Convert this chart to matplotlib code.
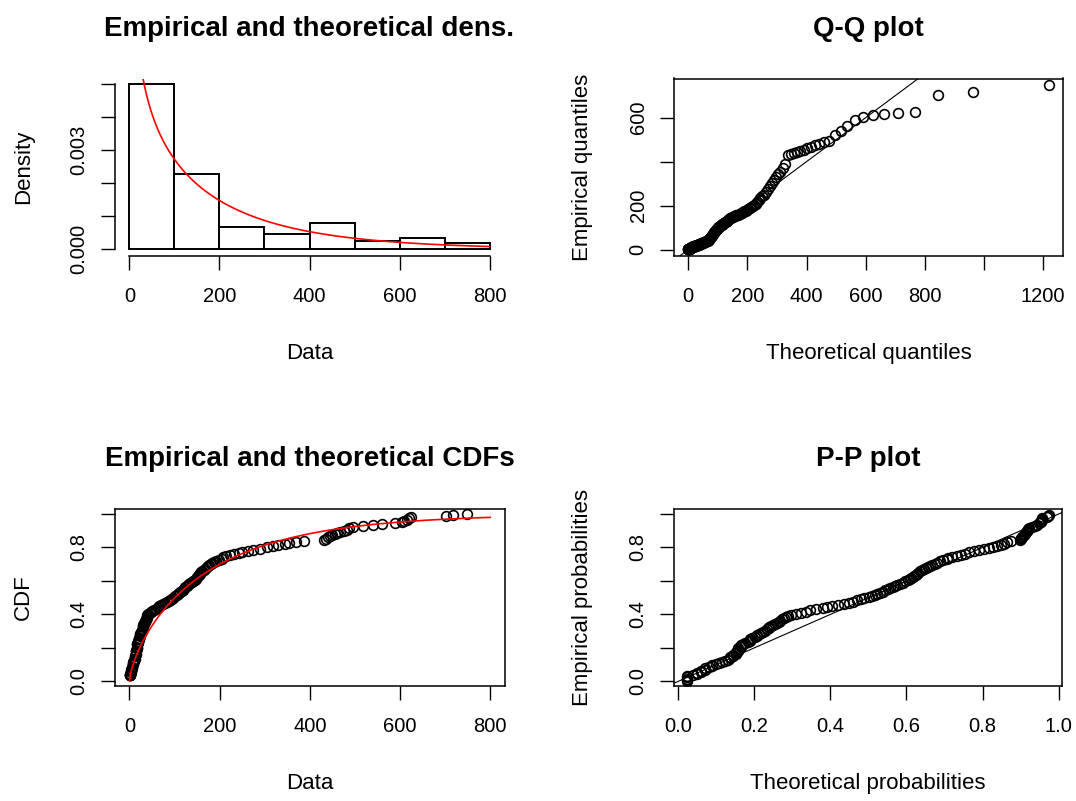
import math
import numpy as np
import matplotlib
matplotlib.use("Agg")
import matplotlib.pyplot as plt

plt.rcParams["font.family"] = ["Liberation Sans", "DejaVu Sans"]

data = [1, 1, 1, 1, 1, 2,
        3, 3, 4, 4, 5, 5, 6, 7, 7, 8, 9, 10, 11,
        12, 13, 13, 14, 14, 15, 15,
        15, 16, 16, 16, 17, 17, 17, 18, 19,
        20, 21, 21, 22, 23, 24, 24, 25, 26,
        27, 28, 29, 30, 30, 31, 32, 33, 34, 35, 36, 37,
        38, 39, 40, 42,
        45, 48, 51, 54, 58,
        63, 66, 70, 74, 79,
        83, 87, 90, 94, 97,
        102, 105, 108, 110, 113, 116, 118, 121, 124, 127, 130,
        132, 135, 139, 142, 145, 148,
        150, 152, 154, 156, 157, 159, 162, 165, 168, 171,
        174, 177, 180, 184, 188, 193, 198,
        205, 208, 215, 224, 233, 242, 250, 262, 275, 289,
        305, 318, 330, 345, 355, 370, 388,
        432, 437, 440, 444, 450, 455, 461, 468, 475, 482, 488, 495,
        519, 541, 560, 589,
        605, 610, 616, 619, 624,
        703, 718, 748]

# fitted gamma distribution (shape, rate)
shape = 0.70
rate = 0.00403

hist_breaks = [0, 100, 200, 300, 400, 500, 600, 700, 800]
dens_yticks = [0.000, 0.001, 0.002, 0.003, 0.004, 0.005]
dens_ylabels = ["0.000", "", "", "0.003", "", ""]
data_ticks = [0, 200, 400, 600, 800]
qq_xticks = [0, 200, 400, 600, 800, 1000, 1200]
qq_xlabels = ["0", "200", "400", "600", "800", "", "1200"]
qq_yticks = [0, 200, 400, 600]
qq_ylabels = ["0", "200", "", "600"]
prob_ticks = [0.0, 0.2, 0.4, 0.6, 0.8, 1.0]
prob_labels_y = ["0.0", "", "0.4", "", "0.8", ""]
prob_labels_x = ["0.0", "0.2", "0.4", "0.6", "0.8", "1.0"]


def gamma_pdf(x):
    x = np.asarray(x, float)
    return np.exp((shape - 1) * np.log(x) - rate * x + shape * np.log(rate) - math.lgamma(shape))


def gamma_cdf(x):
    u = np.asarray(x, float) * rate
    term = np.ones_like(u) / shape
    total = term.copy()
    for k in range(1, 300):
        term = term * u / (shape + k)
        total = total + term
    with np.errstate(divide="ignore"):
        out = np.exp(shape * np.log(u) - u - math.lgamma(shape)) * total
    return np.where(u > 0, out, 0.0)


def gamma_quantile(p):
    p = np.asarray(p, float)
    lo = np.zeros_like(p)
    hi = np.full_like(p, 10000.0)
    for _ in range(80):
        mid = (lo + hi) / 2
        below = gamma_cdf(mid) < p
        lo = np.where(below, mid, lo)
        hi = np.where(below, hi, mid)
    return (lo + hi) / 2


x = np.sort(np.array(data, float))
n = len(x)
pp = (np.arange(1, n + 1) - 0.5) / n
ecdf = np.searchsorted(x, x, side="right") / n

TICK_FS = 14.5
LAB_FS = 16
TITLE_FS = 20
W, H = 1076, 801

fig = plt.figure(figsize=(W / 100, H / 100), dpi=100)


def make_axes(left, top, right, bottom):
    return fig.add_axes([left / W, 1 - bottom / H, (right - left) / W, (bottom - top) / H])


def style(ax, title, xlabel, ylabel, box=True):
    ax.tick_params(direction="out", length=10, width=1, labelsize=TICK_FS)
    ax.tick_params(axis="x", pad=12)
    ax.tick_params(axis="y", pad=9)
    for lab in ax.get_yticklabels():
        lab.set_rotation(90)
        lab.set_va("center")
    ax.set_xlabel(xlabel, fontsize=LAB_FS)
    ax.set_ylabel(ylabel, fontsize=LAB_FS)
    ax.xaxis.label.set_va("center")
    ax.yaxis.label.set_va("center")
    ax.xaxis.set_label_coords(0.5, -0.55)
    ax.yaxis.set_label_coords(-0.236, 0.5)
    ax.text(0.5, 1.28, title, transform=ax.transAxes, ha="center", va="center",
            fontsize=TITLE_FS, fontweight="bold")
    for s in ax.spines.values():
        s.set_linewidth(1.1)
    if not box:
        ax.spines["top"].set_visible(False)
        ax.spines["right"].set_visible(False)


pts = dict(linestyle="none", marker="o", markersize=7.0, markerfacecolor="none",
           markeredgecolor="black", markeredgewidth=1.2)

# density
ax1 = make_axes(115, 78.5, 504, 256)
ax1.hist(x, bins=hist_breaks, density=True, facecolor="white", edgecolor="black", linewidth=1.4)
grid = np.linspace(1, 800, 800)
ax1.plot(grid, gamma_pdf(grid), color="red", linewidth=1.2)
ax1.set_xlim(-32, 832)
ax1.set_ylim(-0.0002, 0.00517)
ax1.set_xticks(data_ticks)
ax1.set_yticks(dens_yticks)
ax1.set_yticklabels(dens_ylabels)
ax1.spines["bottom"].set_bounds(0, 800)
ax1.spines["left"].set_bounds(0, 0.005)
style(ax1, "Empirical and theoretical dens.", "Data", "Density", box=False)

# Q-Q plot
ax2 = make_axes(674, 78.5, 1063, 256)
theo_q = gamma_quantile(pp)
ax2.plot(theo_q, x, **pts)
ax2.set_xlim(-48, 1267)
ax2.set_ylim(-29, 778)
ax2.axline((0, 0), slope=1, color="black", linewidth=0.8)
ax2.set_xticks(qq_xticks)
ax2.set_xticklabels(qq_xlabels)
ax2.set_yticks(qq_yticks)
ax2.set_yticklabels(qq_ylabels)
style(ax2, "Q-Q plot", "Theoretical quantiles", "Empirical quantiles")

# CDF
ax3 = make_axes(115, 509, 505, 686)
ax3.plot(x, ecdf, **pts)
grid2 = np.linspace(0, 800, 400)
ax3.plot(grid2, gamma_cdf(grid2), color="red", linewidth=1.2)
ax3.set_xlim(-32, 833)
ax3.set_ylim(-0.03, 1.03)
ax3.set_xticks(data_ticks)
ax3.set_yticks(prob_ticks)
ax3.set_yticklabels(prob_labels_y)
style(ax3, "Empirical and theoretical CDFs", "Data", "CDF")

# P-P plot
ax4 = make_axes(674, 509, 1062, 686)
theo_p = gamma_cdf(x)
ax4.plot(theo_p, pp, **pts)
ax4.set_xlim(-0.0113, 1.009)
ax4.set_ylim(-0.028, 1.03)
ax4.axline((0, 0), slope=1, color="black", linewidth=0.8)
ax4.set_xticks(prob_ticks)
ax4.set_xticklabels(prob_labels_x)
ax4.set_yticks(prob_ticks)
ax4.set_yticklabels(prob_labels_y)
style(ax4, "P-P plot", "Theoretical probabilities", "Empirical probabilities")

fig.savefig("out.png", dpi=100)
